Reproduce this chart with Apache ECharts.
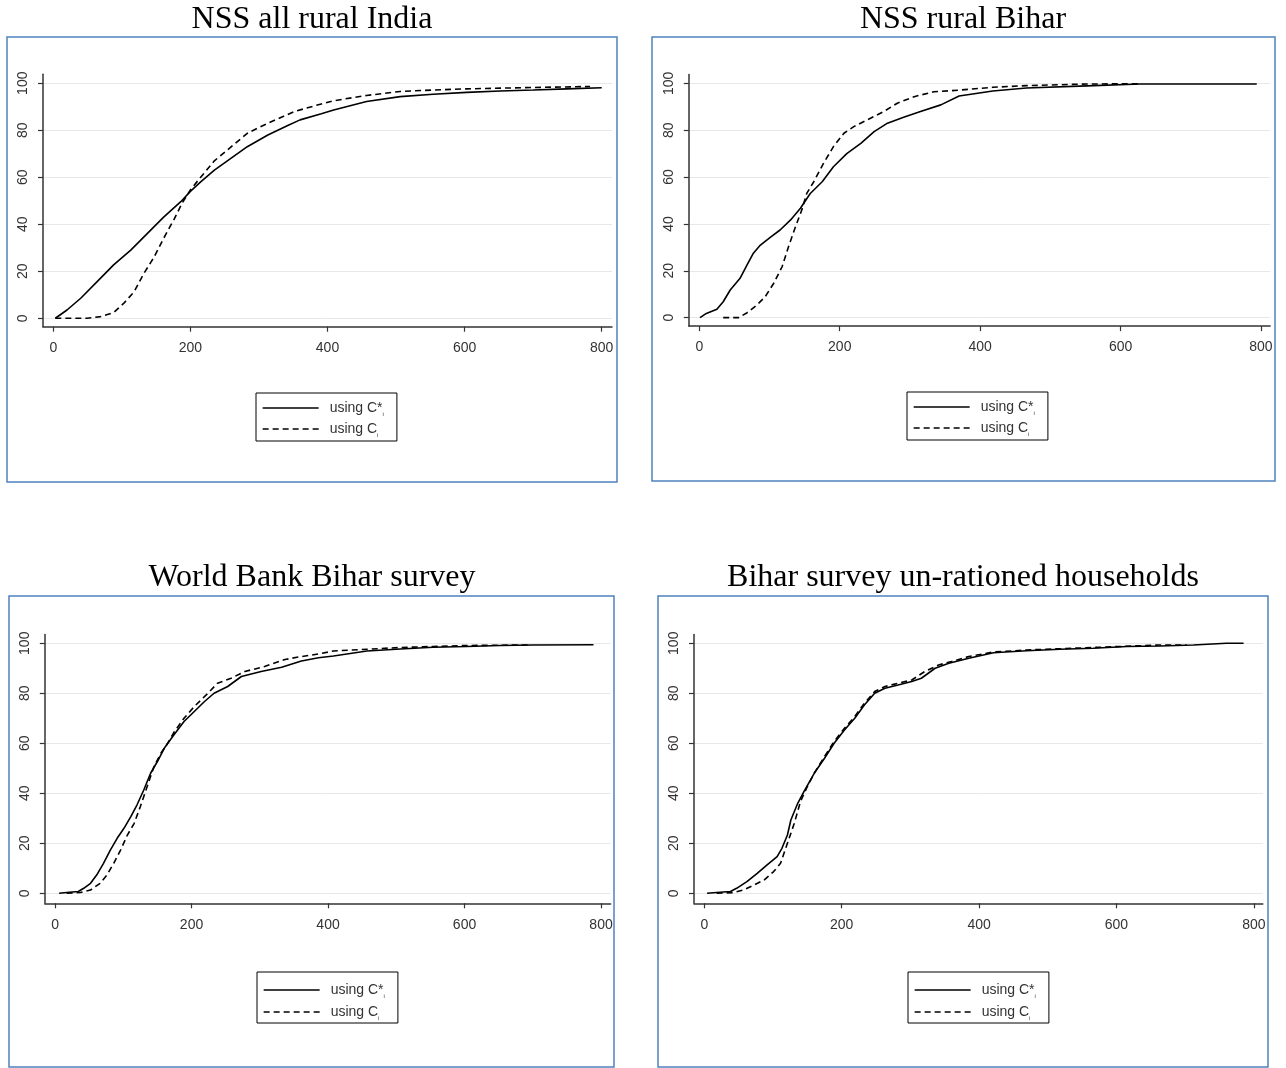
<!DOCTYPE html>
<html>
<head>
<meta charset="utf-8">
<script src="https://cdn.jsdelivr.net/npm/echarts@6/dist/echarts.min.js"></script>
<style>
  html, body { margin: 0; padding: 0; background: #fff; }
  #chart { width: 1286px; height: 1068px; }
</style>
</head>
<body>
<div id="chart"></div>
<script>
// Cumulative distributions, [value, cumulative %], for each survey
const panelTitles = ['NSS all rural India', 'NSS rural Bihar', 'World Bank Bihar survey', 'Bihar survey un-rationed households'];
const xTicks = [0, 200, 400, 600, 800];
const yTicks = [0, 20, 40, 60, 80, 100];

const indiaStar = [[3,0],[20,3.5],[40,8.5],[64,15.6],[88,22.7],[113,29],[137,36],[161,43],[186,49.6],[200,54],[215,58],[235,63],[259,68],[283,73],[313,78],[342,82],[360,84.4],[391,87],[409,88.6],[457,92.2],[506,94.3],[554,95.3],[603,96.1],[652,96.7],[700,97.1],[749,97.6],[800,98.1]];
const indiaPlain = [[3,0],[49,0],[69,0.7],[88,2.4],[103,6.4],[118,11.3],[132,19],[147,26],[161,34],[176,42],[188,49],[200,54.6],[215,60],[235,67],[254,71.6],[283,78.7],[313,83],[352,88],[391,91.2],[408,92.5],[457,94.8],[506,96.5],[554,97.1],[603,97.6],[652,97.9],[700,98.2],[783,98.6]];

const biharStar = [[1,0],[10,1.8],[25,3.6],[34,6.8],[44,11.8],[58,16.8],[68,22.5],[77,27.5],[87,31],[101,34.3],[115,37.4],[130,41.7],[144,46.7],[158,53],[175,58],[191,64.4],[210,70],[230,74.4],[249,79.4],[268,83],[291,85.5],[315,88],[344,90.8],[370,94.6],[418,96.7],[466,98],[552,98.9],[628,99.7],[794,99.7]];
const biharPlain = [[34,0],[56,0],[68,2.1],[82,5.4],[94,9],[106,14.7],[118,21.8],[127,30.3],[137,38.8],[146,46],[153,53],[163,58],[177,65.9],[191,73],[206,78.7],[220,81.5],[239,84.4],[263,88],[282,91.5],[306,94.3],[334,96.4],[371,97.1],[418,98.3],[466,99],[552,99.7],[630,99.8]];

const wbStar = [[6,0],[17,0.3],[34,0.7],[42,2],[52,4],[61,7.3],[71,12],[81,17.3],[91,22],[101,26],[111,30.7],[120,35.3],[130,41.3],[140,48],[150,52.7],[160,58],[174,63.3],[189,68.7],[204,72.7],[219,76.7],[233,80],[253,82.7],[273,86.7],[302,88.7],[332,90.4],[361,92.9],[386,94.2],[408,94.9],[457,96.9],[506,97.7],[554,98.4],[603,98.7],[652,99.1],[701,99.3],[789,99.4]];
const wbPlain = [[17,0],[37,0.3],[52,1.3],[66,4],[76,7.3],[86,12],[96,17.3],[106,23.3],[116,28],[125,34.7],[135,42.7],[145,50.7],[155,56],[165,60],[175,64.7],[189,70],[204,74.7],[224,80],[238,84],[258,86],[278,88.7],[307,90.7],[337,93.5],[359,94.6],[386,95.7],[408,96.9],[457,97.6],[506,98.3],[554,98.7],[603,99.1],[694,99.3]];

const unratStar = [[4,0],[18,0.3],[38,0.7],[47,2],[62,4.7],[77,8],[91,11.3],[106,14.7],[113,18],[121,23.3],[126,29.3],[136,36],[145,40.7],[160,48],[175,54],[189,60],[204,65.3],[219,70],[233,75.3],[248,80],[263,82],[282,83.3],[302,84.7],[316,86],[336,90],[356,92],[385,94],[421,96.2],[469,97],[518,97.6],[566,98],[615,98.7],[663,98.9],[712,99.3],[760,100],[785,100]];
const unratPlain = [[18,0],[43,0.3],[57,1.3],[72,3.3],[87,5.3],[101,8.7],[111,12],[121,20],[131,28],[140,36.7],[150,42.7],[160,48],[175,54.7],[189,60.7],[204,66],[219,70.7],[233,76],[248,80.7],[263,82.7],[282,84],[302,85.3],[321,88.7],[341,91.3],[360,92.7],[385,94.7],[421,96.5],[469,97.3],[566,98.3],[663,99.3],[702,99.3]];

const curves = [[indiaStar, indiaPlain], [biharStar, biharPlain], [wbStar, wbPlain], [unratStar, unratPlain]];

// Layout of the four panels
const panels = [
  { frame: [7, 37, 610, 445], cx: 312, ty: 20, grid: { left: 43, top: 74.3, width: 569, height: 252.4 }, x: [-15, 815], y: [-3.6, 103.8], xMargin: 14, legend: { left: 256, top: 393, gap: 5, pad: [8, 13, 3, 6] } },
  { frame: [652, 37, 623, 444], cx: 963, ty: 20, grid: { left: 688.8, top: 74.4, width: 581.3, height: 251.7 }, x: [-15, 813], y: [-3.6, 103.8], xMargin: 14, legend: { left: 907, top: 392, gap: 5, pad: [8, 13, 3, 6] } },
  { frame: [9, 596, 605, 471], cx: 312, ty: 578, grid: { left: 44.8, top: 634.5, width: 565.8, height: 268.8 }, x: [-15, 814], y: [-4, 103.5], xMargin: 15, legend: { left: 257, top: 972, gap: 6, pad: [11, 13, 2, 6] } },
  { frame: [658, 596, 610, 471], cx: 963, ty: 578, grid: { left: 694, top: 634.5, width: 568.8, height: 268.8 }, x: [-15, 813], y: [-4, 103.5], xMargin: 15, legend: { left: 908, top: 972, gap: 6, pad: [11, 13, 2, 6] } }
];

const axisColor = '#333';
const labelFont = { fontFamily: 'Liberation Sans', fontSize: 14, color: '#333' };

const option = {
  animation: false,
  backgroundColor: '#fff',
  grid: [], xAxis: [], yAxis: [], series: [], legend: [], graphic: []
};

panels.forEach((p, i) => {
  option.graphic.push({
    type: 'rect', silent: true, z: -1,
    shape: { x: p.frame[0], y: p.frame[1], width: p.frame[2], height: p.frame[3] },
    style: { fill: 'none', stroke: '#4f81bd', lineWidth: 1.5 }
  });
  option.graphic.push({
    type: 'text', silent: true,
    x: p.cx, y: p.ty,
    style: { text: panelTitles[i], fontFamily: 'Liberation Serif', fontSize: 32, fill: '#000', align: 'center', verticalAlign: 'middle' }
  });
  option.grid.push(Object.assign({ containLabel: false }, p.grid));
  option.xAxis.push({
    type: 'value', gridIndex: i, min: p.x[0], max: p.x[1],
    axisLine: { onZero: false, lineStyle: { color: axisColor, width: 1.5 } },
    axisTick: { customValues: xTicks, length: 5, lineStyle: { color: axisColor, width: 1.2 } },
    axisLabel: Object.assign({ customValues: xTicks, margin: p.xMargin }, labelFont),
    splitLine: { show: false }
  });
  option.yAxis.push({
    type: 'value', gridIndex: i, min: p.y[0], max: p.y[1],
    axisLine: { show: true, onZero: false, lineStyle: { color: axisColor, width: 1.5 } },
    axisTick: { show: true, customValues: yTicks, length: 5, lineStyle: { color: axisColor, width: 1.2 } },
    axisLabel: Object.assign({ customValues: yTicks, rotate: 90, margin: 13 }, labelFont),
    splitLine: { show: true, lineStyle: { color: '#e8e8e8', width: 1 } }
  });
  const [star, plain] = curves[i];
  option.series.push({
    name: 'using C*', type: 'line', xAxisIndex: i, yAxisIndex: i, data: star,
    symbol: 'none', showSymbol: false, silent: true,
    lineStyle: { color: '#000', width: 1.6, type: 'solid' },
    itemStyle: { color: '#000' }
  });
  option.series.push({
    name: 'using C', type: 'line', xAxisIndex: i, yAxisIndex: i, data: plain,
    symbol: 'none', showSymbol: false, silent: true,
    lineStyle: { color: '#000', width: 1.6, type: [6, 4] },
    itemStyle: { color: '#000' }
  });
  option.legend.push({
    left: p.legend.left, top: p.legend.top, orient: 'vertical',
    data: ['using C*', 'using C'],
    selectedMode: false,
    itemWidth: 56, itemHeight: 14, itemGap: p.legend.gap,
    padding: p.legend.pad,
    itemStyle: { opacity: 0 },
    lineStyle: { width: 1.3 },
    borderColor: '#000', borderWidth: 1, borderRadius: 0,
    formatter: name => name === 'using C*' ? '{m|using C*}{s|i}' : '{m|using C}{s|i}',
    textStyle: {
      rich: {
        m: { fontFamily: 'Liberation Sans', fontSize: 14, color: '#333', padding: [0, 0, 0, 6] },
        s: { fontFamily: 'Liberation Sans', fontSize: 6, color: '#333', verticalAlign: 'bottom', padding: [0, 0, -2, 0] }
      }
    }
  });
});

const chart = echarts.init(document.getElementById('chart'), null, { renderer: 'canvas' });
chart.setOption(option);
</script>
</body>
</html>
